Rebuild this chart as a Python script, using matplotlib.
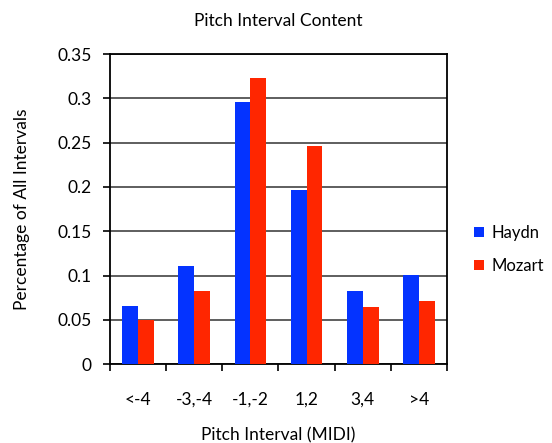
import matplotlib
matplotlib.use('Agg')
import matplotlib.pyplot as plt
import numpy as np

categories = ['<-4', '-3,-4', '-1,-2', '1,2', '3,4', '>4']
haydn = [0.066, 0.111, 0.296, 0.196, 0.083, 0.101]
mozart = [0.050, 0.083, 0.323, 0.246, 0.065, 0.071]

plt.rcParams['font.family'] = ['Lato', 'DejaVu Sans']
FS = 12.5

fig = plt.figure(figsize=(5.52, 4.43), dpi=100)
ax = fig.add_axes([0.199, 0.178, 0.611, 0.700])

x = np.arange(len(categories))
w = 0.28
ax.bar(x - w / 2, haydn, w, color='#0433FF', label='Haydn', zorder=3)
ax.bar(x + w / 2, mozart, w, color='#FF2600', label='Mozart', zorder=3)

ax.set_xlim(-0.5, len(categories) - 0.5)
ax.set_ylim(0, 0.35)
ax.set_yticks([0, 0.05, 0.1, 0.15, 0.2, 0.25, 0.3, 0.35])
ax.set_yticklabels(['0', '0.05', '0.1', '0.15', '0.2', '0.25', '0.3', '0.35'], fontsize=FS)

# category labels centred, tick marks at the boundaries
ax.set_xticks(np.arange(len(categories) + 1) - 0.5)
ax.set_xticklabels([])
ax.set_xticks(x, minor=True)
ax.set_xticklabels(categories, minor=True, fontsize=FS)
ax.tick_params(axis='x', which='minor', length=0, pad=20)
ax.tick_params(axis='x', which='major', direction='out', length=5, width=1.2)
ax.tick_params(axis='y', direction='out', length=5, width=1.2, pad=8)

ax.grid(True, axis='y', color='#333333', lw=1.1, zorder=0)
for s in ax.spines.values():
    s.set_linewidth(1.3)
    s.set_color('black')

ax.set_title('Pitch Interval Content', fontsize=FS, pad=20)
ax.set_xlabel('Pitch Interval (MIDI)', fontsize=FS, labelpad=14)
ax.set_ylabel('Percentage of All Intervals', fontsize=FS, labelpad=20)

ax.legend(loc='center left', bbox_to_anchor=(1.035, 0.37), frameon=False,
          fontsize=12, handlelength=0.6, handleheight=0.6, handletextpad=0.45,
          labelspacing=1.0)

fig.savefig('out.png', dpi=100)
